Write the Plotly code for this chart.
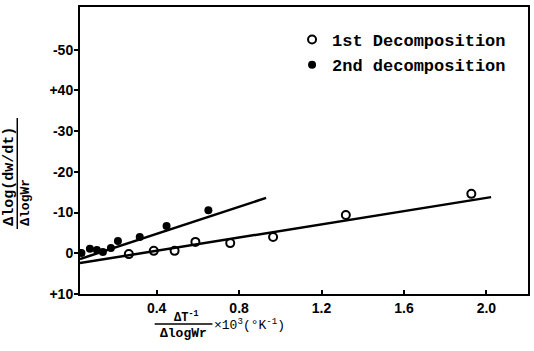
import plotly.graph_objects as go

# Data
x_first = [0.265, 0.386, 0.487, 0.588, 0.757, 0.965, 1.318, 1.927]
y_first = [-0.2, 0.6, 0.6, 2.8, 2.5, 4.0, 9.4, 14.6]

x_second = [0.035, 0.076, 0.110, 0.139, 0.178, 0.212, 0.318, 0.448, 0.651]
y_second = [0.1, 1.1, 0.8, 0.3, 1.3, 3.0, 4.0, 6.7, 10.6]

line1_x = [0.028, 2.023]
line1_y = [-2.4, 13.8]
line2_x = [0.028, 0.931]
line2_y = [-1.4, 13.6]

x_tickvals = [0.4, 0.8, 1.2, 1.6, 2.0]
x_ticktext = ["0.4", "0.8", "1.2", "1.6", "2.0"]
y_tickvals = [50, 40, 30, 20, 10, 0, -10]
y_ticktext = ["-50", "+40", "-30", "-20", "-10", "0", "+10"]

W, H = 534, 351
L, R, T, B = 80, 4, 7, 57
pw, ph = W - L - R, H - T - B

def px(xp):
    return (xp - L) / pw

def py(yp):
    return (H - B - yp) / ph

fig = go.Figure()
fig.add_trace(go.Scatter(x=line1_x, y=line1_y, mode="lines",
                         line=dict(color="black", width=2.5), showlegend=False))
fig.add_trace(go.Scatter(x=line2_x, y=line2_y, mode="lines",
                         line=dict(color="black", width=2.5), showlegend=False))
fig.add_trace(go.Scatter(x=x_first, y=y_first, mode="markers", name="1st Decomposition",
                         marker=dict(symbol="circle-open", size=8, color="black",
                                     line=dict(width=2, color="black"))))
fig.add_trace(go.Scatter(x=x_second, y=y_second, mode="markers", name="2nd decomposition",
                         marker=dict(symbol="circle", size=8, color="black")))

mono = "Liberation Mono"
tickfont = dict(family="Liberation Sans", size=14, weight="bold", color="black")
fig.update_layout(
    width=W, height=H,
    margin=dict(l=L, r=R, t=T, b=B),
    paper_bgcolor="white", plot_bgcolor="white",
    font=dict(family="Liberation Sans", color="black", size=14),
    legend=dict(x=px(293), y=py(22), xanchor="left", yanchor="top",
                font=dict(family=mono, size=17, weight="bold", color="black"),
                bgcolor="rgba(0,0,0,0)", tracegroupgap=0),
    xaxis=dict(range=[0.028, 2.202], tickvals=x_tickvals, ticktext=x_ticktext,
               ticks="inside", ticklen=4, tickwidth=2, tickcolor="black",
               showline=True, linewidth=2, linecolor="black", mirror=True,
               showgrid=False, zeroline=False, tickfont=tickfont),
    yaxis=dict(range=[-10, 60.5], tickvals=y_tickvals, ticktext=y_ticktext,
               ticks="outside", ticklen=4, tickwidth=2, tickcolor="black",
               ticklabelstandoff=-2,
               showline=True, linewidth=2, linecolor="black", mirror=True,
               showgrid=False, zeroline=False, tickfont=tickfont),
)

# y-axis title as a fraction
fig.add_annotation(xref="paper", yref="paper", x=px(9), y=py(228), text="Δlog(dw/dt)",
                   textangle=-90, showarrow=False, xanchor="center", yanchor="bottom",
                   font=dict(family=mono, size=15, weight="bold", color="black"))
fig.add_annotation(xref="paper", yref="paper", x=px(25), y=py(228), text="ΔlogWr",
                   textangle=-90, showarrow=False, xanchor="center", yanchor="bottom",
                   font=dict(family=mono, size=13, weight="bold", color="black"))
fig.add_shape(type="line", xref="paper", yref="paper", x0=px(17), x1=px(17),
              y0=py(229), y1=py(118), line=dict(color="black", width=1.5))

# x-axis title as a fraction
fig.add_annotation(xref="paper", yref="paper", x=px(186), y=py(327), text="ΔT<sup>-1</sup>",
                   showarrow=False, xanchor="center", yanchor="bottom",
                   font=dict(family=mono, size=12, weight="bold", color="black"))
fig.add_annotation(xref="paper", yref="paper", x=px(184), y=py(324), text="ΔlogWr",
                   showarrow=False, xanchor="center", yanchor="top",
                   font=dict(family=mono, size=13, weight="bold", color="black"))
fig.add_shape(type="line", xref="paper", yref="paper", x0=px(155), x1=px(213),
              y0=py(324), y1=py(324), line=dict(color="black", width=1.5))
fig.add_annotation(xref="paper", yref="paper", x=px(213), y=py(324),
                   text="×10<sup>3</sup>(°K<sup>-1</sup>)",
                   showarrow=False, xanchor="left", yanchor="middle",
                   font=dict(family=mono, size=13, color="black"))

fig.write_html("out.html")
